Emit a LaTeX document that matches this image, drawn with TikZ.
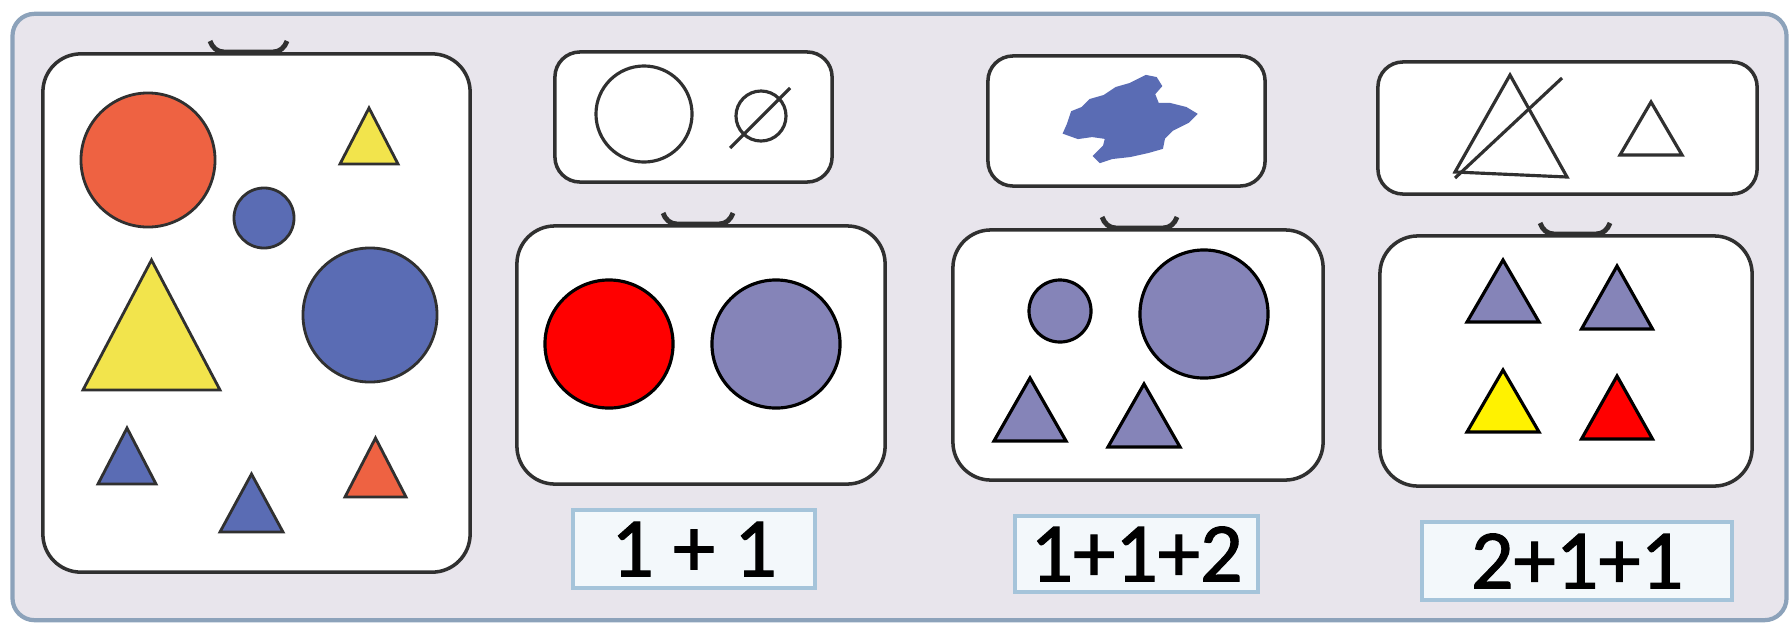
\documentclass[tikz,border=0pt]{standalone}
\usepackage{fontspec}
\setmainfont{Carlito}
\newfontfamily\tagfont[FakeBold=1.4]{Carlito}
\definecolor{paper}{RGB}{232,229,236}
\definecolor{rim}{RGB}{140,162,186}
\definecolor{ink}{RGB}{48,48,48}
\definecolor{tagline}{RGB}{165,196,218}
\definecolor{tagfill}{RGB}{243,248,251}
\definecolor{crayonred}{RGB}{238,98,66}
\definecolor{crayonblue}{RGB}{90,108,180}
\definecolor{crayonyellow}{RGB}{242,228,76}
\definecolor{lilac}{RGB}{133,132,184}
% triangle from base centre (x,y), width, height, options
\newcommand{\shapetri}[5]{\path[#5] (#1-#3/2,#2) -- (#1,#2-#4) -- (#1+#3/2,#2) -- cycle;}
% little handle on top of a box
\newcommand{\boxhandle}[3]{\draw[pencil,line width=1.4pt] (#1,#3-13) to[out=-70,in=180] (#1+14,#3-2) -- (#2-14,#3-2) to[out=0,in=250] (#2,#3-13);}

\begin{document}
\begin{tikzpicture}[x=0.01cm,y=-0.01cm,
      frame/.style={draw=rim,line width=1.2pt,fill=paper,rounded corners=0.22cm,inner sep=0},
      panel/.style={draw=ink,line width=1pt,fill=white,rounded corners=0.38cm,inner sep=0},
      hint/.style={draw=ink,line width=1pt,fill=white,rounded corners=0.25cm,inner sep=0},
      tag/.style={draw=tagline,line width=1.2pt,fill=tagfill,inner sep=0,font=\fontsize{24}{28}\tagfont},
      disc/.style={circle,draw=black,line width=0.9pt,inner sep=0},
      crayon/.style={circle,draw=ink,line width=0.8pt,inner sep=0},
      flat/.style={draw=black,line width=0.9pt},
      rough/.style={draw=ink,line width=0.8pt},
      pencil/.style={draw=ink,line width=0.9pt}
    ]
      \useasboundingbox (0,0) rectangle (1789,627);
      \node[frame,minimum width=17.73cm,minimum height=6.06cm] (frame) at (899.5,317) {};

      % the whole set
      \node[panel,minimum width=4.27cm,minimum height=5.18cm] (pool) at (256.5,313) {};
      \boxhandle{210}{287}{54}
      \node[crayon,fill=crayonred,minimum size=1.34cm] (bigred) at (148,160) {};
      \node[crayon,fill=crayonblue,minimum size=0.60cm] (smallblue) at (264,218) {};
      \node[crayon,fill=crayonblue,minimum size=1.34cm] (bigblue) at (370,315) {};
      \shapetri{369}{164}{58}{56}{rough,fill=crayonyellow}
      \shapetri{151.5}{390}{137}{130}{rough,fill=crayonyellow}
      \shapetri{127}{484}{58}{56}{rough,fill=crayonblue}
      \shapetri{251.5}{532}{63}{58}{rough,fill=crayonblue}
      \shapetri{375.5}{497}{61}{59}{rough,fill=crayonred}

      % first split: circles
      \node[hint,minimum width=2.77cm,minimum height=1.30cm] (hintA) at (693.5,117) {};
      \node[circle,pencil,minimum size=0.96cm,inner sep=0] (ring) at (644,114) {};
      \node[circle,pencil,minimum size=0.50cm,inner sep=0] (nil) at (761,116) {};
      \draw[pencil] (730,148) -- (790,88);
      \boxhandle{663}{733}{226}
      \node[panel,minimum width=3.68cm,minimum height=2.58cm] (setA) at (701,355) {};
      \node[disc,fill=red,minimum size=1.28cm] (redA) at (609,344) {};
      \node[disc,fill=lilac,minimum size=1.28cm] (lilacA) at (776,344) {};
      \node[tag,minimum width=2.42cm,minimum height=0.78cm] (sumA) at (694,549) {1 + 1};

      % second split: blue shapes
      \node[hint,minimum width=2.77cm,minimum height=1.30cm] (hintB) at (1126.5,121) {};
      \filldraw[crayonblue,line width=0.6pt] (1064,133) -- (1068,124) -- (1072,112) -- (1082,108) -- (1090,100)
        -- (1104,96) -- (1116,88) -- (1130,84) -- (1146,76) -- (1156,78) -- (1161,86) -- (1154,94)
        -- (1158,104) -- (1170,104) -- (1186,108) -- (1196,114) -- (1188,122) -- (1172,130)
        -- (1164,138) -- (1162,148) -- (1148,152) -- (1130,156) -- (1112,158) -- (1100,162)
        -- (1094,156) -- (1104,146) -- (1106,138) -- (1092,136) -- (1078,138) -- cycle;
      \boxhandle{1102}{1177}{230}
      \node[panel,minimum width=3.70cm,minimum height=2.50cm] (setB) at (1138,355) {};
      \node[disc,fill=lilac,minimum size=0.62cm] (smallB) at (1060,311) {};
      \node[disc,fill=lilac,minimum size=1.28cm] (bigB) at (1204,314) {};
      \shapetri{1030}{441}{72}{63}{flat,fill=lilac}
      \shapetri{1144}{447}{72}{63}{flat,fill=lilac}
      \node[tag,minimum width=2.43cm,minimum height=0.76cm] (sumB) at (1136.5,554) {1+1+2};

      % third split: triangles
      \node[hint,minimum width=3.79cm,minimum height=1.32cm] (hintC) at (1567.5,128) {};
      \draw[pencil] (1455,172) -- (1510,75) -- (1567,177) -- cycle;
      \draw[pencil] (1455,178) -- (1562,78);
      \shapetri{1651}{155}{62}{53}{pencil}
      \boxhandle{1540}{1610}{236}
      \node[panel,minimum width=3.72cm,minimum height=2.50cm] (setC) at (1566,361) {};
      \shapetri{1503}{322}{72}{62}{flat,fill=lilac}
      \shapetri{1617}{329}{71}{63}{flat,fill=lilac}
      \shapetri{1503}{432}{72}{62}{flat,fill=yellow}
      \shapetri{1617}{439}{71}{63}{flat,fill=red}
      \node[tag,minimum width=3.10cm,minimum height=0.78cm] (sumC) at (1577,561) {2+1+1};
    \end{tikzpicture}
\end{document}
